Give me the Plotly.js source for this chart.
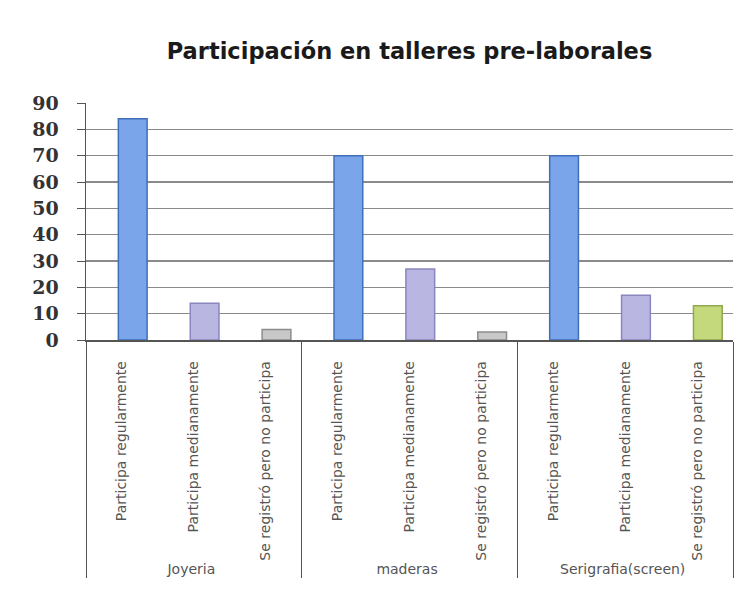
<!DOCTYPE html>
<html>
<head>
<meta charset="utf-8">
<script src="https://cdn.plot.ly/plotly-3.0.1.min.js"></script>
<style>html,body{margin:0;padding:0;background:#fff;}#chart{width:756px;height:601px;}</style>
</head>
<body>
<div id="chart"></div>
<script>
var groups = ["Joyeria", "maderas", "Serigrafia(screen)"];
var levels = ["Participa regularmente", "Participa medianamente", "Se registró pero no participa"];
var joyeria = [84, 14, 4];
var maderas = [70, 27, 3];
var serigrafia = [70, 17, 13];
var yTicks = [0, 10, 20, 30, 40, 50, 60, 70, 80, 90];

var fillJoy = ["#7aa5ea", "#b9b6e2", "#c8c8c8"];
var fillMad = ["#7aa5ea", "#b9b6e2", "#c8c8c8"];
var fillSer = ["#7aa5ea", "#b9b6e2", "#c3d97c"];
var lineJoy = ["#3f6fb9", "#8a86bf", "#8c8c8c"];
var lineMad = ["#3f6fb9", "#8a86bf", "#8c8c8c"];
var lineSer = ["#3f6fb9", "#8a86bf", "#90a84e"];

var xOuter = [], xInner = [], yVals = [], fills = [], lines = [];
var series = [joyeria, maderas, serigrafia];
var fs = [fillJoy, fillMad, fillSer];
var ls = [lineJoy, lineMad, lineSer];
for (var g = 0; g < groups.length; g++) {
  for (var k = 0; k < levels.length; k++) {
    xOuter.push(groups[g]);
    xInner.push(levels[k]);
    yVals.push(series[g][k]);
    fills.push(fs[g][k]);
    lines.push(ls[g][k]);
  }
}

var trace = {
  type: "bar",
  x: [xOuter, xInner],
  y: yVals,
  width: 0.4,
  offset: -0.05,
  marker: {color: fills, line: {color: lines, width: 1.5}},
  hoverinfo: "skip"
};

var layout = {
  width: 756, height: 601,
  margin: {l: 86, r: 23, t: 103, b: 261},
  paper_bgcolor: "#ffffff",
  plot_bgcolor: "#ffffff",
  showlegend: false,
  title: {
    text: "<b>Participación en talleres pre-laborales</b>",
    font: {family: "DejaVu Sans, sans-serif", size: 22.5, color: "#1a1a1a"},
    x: 0.5, xref: "paper", xanchor: "center",
    y: 33, yref: "container", yanchor: "middle"
  },
  xaxis: {
    type: "multicategory",
    tickangle: -90,
    tickfont: {family: "DejaVu Sans, sans-serif", size: 14, color: "#555"},
    ticklabelstandoff: 14,
    showdividers: true,
    dividercolor: "#555",
    dividerwidth: 1,
    showline: true, linecolor: "#555", linewidth: 1.5,
    ticks: "",
    showgrid: false
  },
  yaxis: {
    range: [0, 90],
    tickvals: yTicks,
    ticktext: yTicks.map(String),
    tickfont: {family: "DejaVu Serif, serif", size: 19, color: "#333", weight: "bold"},
    showgrid: true, gridcolor: "#8a8a8a", gridwidth: 1.5,
    showline: true, linecolor: "#555", linewidth: 1.5,
    ticks: "outside", ticklen: 8, tickcolor: "#555",
    ticklabelstandoff: 14,
    zeroline: false,
    fixedrange: true
  }
};

Plotly.newPlot("chart", [trace], layout, {displayModeBar: false, staticPlot: true});
</script>
</body>
</html>
